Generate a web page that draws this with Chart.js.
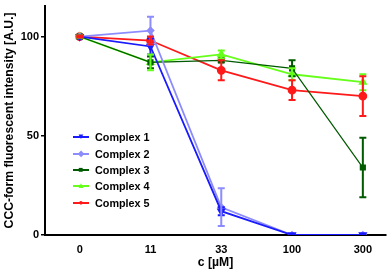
<!DOCTYPE html>
<html>
<head>
<meta charset="utf-8">
<script src="https://cdn.jsdelivr.net/npm/chart.js@4"></script>
<style>
  body { margin: 0; background: #fff; }
  #wrap { position: relative; width: 392px; height: 274px; }
  #legend { position: absolute; left: 73px; top: 129px; font: bold 10.8px "Liberation Sans", Arial, sans-serif; color: #000; }
  #legend div { height: 16.4px; display: flex; align-items: center; }
  #legend .ln { position: relative; width: 16px; height: 2px; margin-right: 6px; }
  #legend .mk { position: absolute; left: 8px; top: 1px; transform: translate(-50%, -50%); font-size: 8px; line-height: 8px; }
</style>
</head>
<body>
<div id="wrap">
  <canvas id="chart" width="392" height="274"></canvas>
  <div id="legend"></div>
</div>
<script>
const concLabels = ['0', '11', '33', '100', '300'];
const seriesNames = ['Complex 1', 'Complex 2', 'Complex 3', 'Complex 4', 'Complex 5'];
const complex1 = [100, 95, 12, 0, 0];
const complex2 = [100, 103, 14, 0, 0];
const complex3 = [100, 87, 88, 84, 34];
const complex4 = [100, 87, 91, 81, 77];
const complex5 = [100, 98, 83, 73, 70];
const err1 = [0.5, 4, 2, 0, 0];
const err2 = [0.5, 7, 9.5, 0, 0];
const err3 = [0.5, 3, 1, 4, 15];
const err4 = [0.5, 4, 2, 3, 4];
const err5 = [0.5, 2, 5, 5, 10];
const yTicks = [0, 50, 100];

const colors = ['#1a1aff', '#8c8cff', '#005a00', '#66ff1a', '#ff1a1a'];
const shapes = ['triangle', 'rectRot', 'rect', 'triangle', 'circle'];
const rotations = [180, 0, 0, 0, 0];
const glyphs = ['▼', '◆', '■', '▲', '●'];
const values = [complex1, complex2, complex3, complex4, complex5];
const errors = [err1, err2, err3, err4, err5];

const datasets = values.map((vals, i) => ({
    label: seriesNames[i],
    data: vals.map((v, k) => ({ x: k, y: v })),
    err: errors[i],
    borderColor: colors[i],
    backgroundColor: colors[i],
    borderWidth: i === 2 ? 1.2 : 1.8,
    pointStyle: shapes[i],
    rotation: rotations[i],
    pointRadius: i === 1 ? 3 : 3.5,
    tension: 0
}));

const errorBars = {
    id: 'errorBars',
    afterDatasetsDraw(chart) {
        const ctx = chart.ctx;
        const xs = chart.scales.x, ys = chart.scales.y;
        ctx.save();
        chart.data.datasets.forEach(ds => {
            ctx.strokeStyle = ds.borderColor;
            ctx.lineWidth = 2;
            ds.data.forEach((p, k) => {
                const e = ds.err[k];
                if (!e) return;
                const px = xs.getPixelForValue(p.x);
                const top = ys.getPixelForValue(p.y + e);
                const bot = ys.getPixelForValue(Math.max(p.y - e, 0));
                ctx.beginPath();
                ctx.moveTo(px, top); ctx.lineTo(px, bot);
                ctx.moveTo(px - 3.5, top); ctx.lineTo(px + 3.5, top);
                ctx.moveTo(px - 3.5, bot); ctx.lineTo(px + 3.5, bot);
                ctx.stroke();
            });
        });
        ctx.restore();
    }
};

const font = { family: '"Liberation Sans", Arial, sans-serif', weight: 'bold', size: 11 };
const titleFont = { family: '"Liberation Sans", Arial, sans-serif', weight: 'bold', size: 12.2 };

new Chart(document.getElementById('chart'), {
    type: 'line',
    data: { datasets: datasets },
    plugins: [errorBars],
    options: {
        responsive: false,
        animation: false,
        layout: { padding: { top: 0, right: 1, left: 0, bottom: 0 } },
        plugins: { legend: { display: false }, tooltip: { enabled: false } },
        scales: {
            x: {
                type: 'linear',
                min: -0.49,
                max: 4.33,
                afterBuildTicks: s => { s.ticks = concLabels.map((l, k) => ({ value: k })); },
                afterFit: s => { s.height = 39; s.paddingLeft = 0; s.paddingRight = 0; },
                border: { color: '#000', width: 2 },
                grid: { display: false, drawOnChartArea: false, tickLength: 4, color: '#000', lineWidth: 1.5 },
                ticks: { color: '#000', font: font, padding: 4, maxRotation: 0, callback: (v) => concLabels[v] },
                title: { display: true, text: 'c [µM]', color: '#000', font: titleFont, padding: { top: 3 } }
            },
            y: {
                min: 0,
                max: 115.5,
                afterBuildTicks: s => { s.ticks = yTicks.map(v => ({ value: v })); },
                afterFit: s => { s.width = 45; s.paddingTop = 0; s.paddingBottom = 0; },
                border: { color: '#000', width: 2 },
                grid: { drawOnChartArea: false, tickLength: 4, color: '#000', lineWidth: 1.5 },
                ticks: { color: '#000', font: font, padding: 2 },
                title: { display: true, text: 'CCC-form fluorescent intensity [A.U.]', color: '#000', font: titleFont, padding: { top: 2, bottom: 0 } }
            }
        }
    }
});

const legend = document.getElementById('legend');
seriesNames.forEach((name, i) => {
    const row = document.createElement('div');
    row.innerHTML = '<span class="ln" style="background:' + colors[i] + '"><span class="mk" style="color:' + colors[i] + '">' + glyphs[i] + '</span></span>' + name;
    legend.appendChild(row);
});
</script>
</body>
</html>
